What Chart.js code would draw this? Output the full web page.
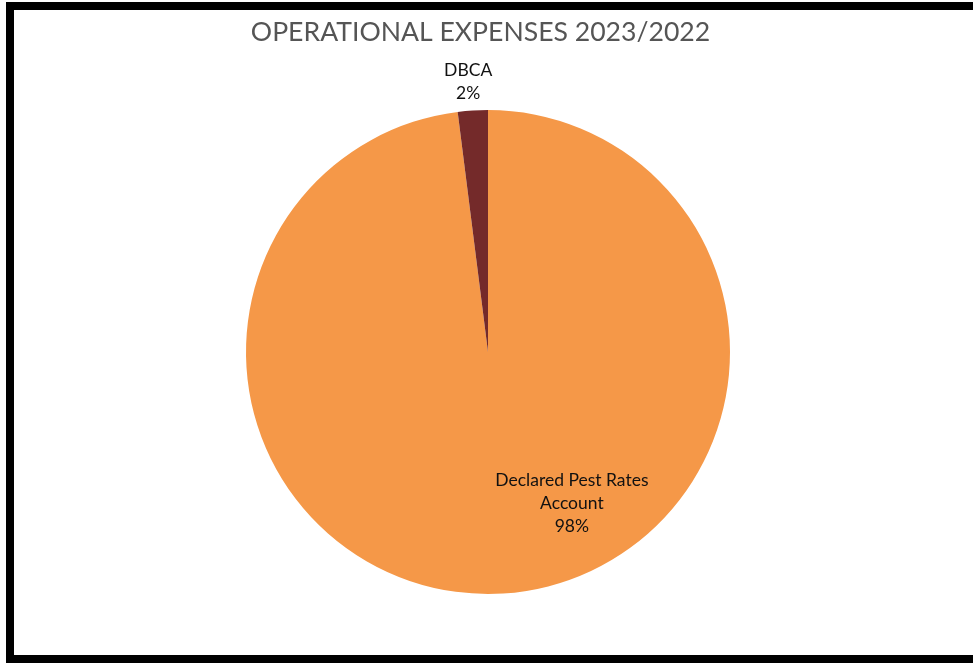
<!DOCTYPE html>
<html>
<head>
<meta charset="utf-8">
<script src="https://cdn.jsdelivr.net/npm/chart.js"></script>
<style>
  html, body { margin: 0; padding: 0; background: #fff; overflow: hidden; }
  #frame {
    position: absolute; left: 6px; top: 2px; width: 990px; height: 645px;
    border: 8px solid #000;
  }
  #wrap { position: absolute; left: 0; top: 0; width: 973px; height: 664px; }
</style>
</head>
<body>
<div id="frame"></div>
<div id="wrap"><canvas id="chart"></canvas></div>
<script>
// values
const categories = ['Declared Pest Rates Account', 'DBCA'];
const shares = [98, 2];
const labelLines = [['Declared Pest Rates', 'Account'], ['DBCA']];
const sliceColors = ['#F59848', '#742A2A'];
const chartTitle = 'OPERATIONAL EXPENSES 2023/2022';

// where each data label sits: angle (deg, canvas coords) and distance as a fraction of radius
const labelPlace = [
    { angle: 61, dist: 0.715 },
    { angle: -94.2, dist: 1.12 }
];

// title drawn by hand so it can sit a little left of the pie centre, like the original
const titlePlugin = {
    id: 'titlePlugin',
    afterDraw(chart) {
        const ctx = chart.ctx;
        ctx.save();
        ctx.font = '26.6px Lato';
        ctx.fillStyle = '#555555';
        ctx.textAlign = 'center';
        ctx.textBaseline = 'middle';
        ctx.fillText(chartTitle, chart.width / 2 - 6, 32);
        ctx.restore();
    }
};

const pieLabels = {
    id: 'pieLabels',
    afterDatasetsDraw(chart) {
        const ctx = chart.ctx;
        const arcs = chart.getDatasetMeta(0).data;
        ctx.save();
        ctx.font = '17.5px Lato';
        ctx.fillStyle = '#111';
        ctx.textAlign = 'center';
        ctx.textBaseline = 'middle';
        arcs.forEach((arc, i) => {
            const p = labelPlace[i];
            const a = p.angle * Math.PI / 180;
            const cx = arc.x + Math.cos(a) * arc.outerRadius * p.dist;
            const cy = arc.y + Math.sin(a) * arc.outerRadius * p.dist;
            const lines = labelLines[i].concat([shares[i] + '%']);
            const lh = 23;
            lines.forEach((t, k) => {
                ctx.fillText(t, cx, cy + (k - (lines.length - 1) / 2) * lh);
            });
        });
        ctx.restore();
    }
};

new Chart(document.getElementById('chart'), {
    type: 'pie',
    data: {
        labels: categories,
        datasets: [{
            data: shares,
            backgroundColor: sliceColors,
            borderWidth: 0
        }]
    },
    options: {
        responsive: true,
        maintainAspectRatio: false,
        animation: false,
        layout: { padding: { left: 246, right: 243, top: 110, bottom: 70 } },
        plugins: {
            legend: { display: false },
            tooltip: { enabled: false },
            title: { display: false }
        }
    },
    plugins: [pieLabels, titlePlugin]
});
</script>
</body>
</html>
